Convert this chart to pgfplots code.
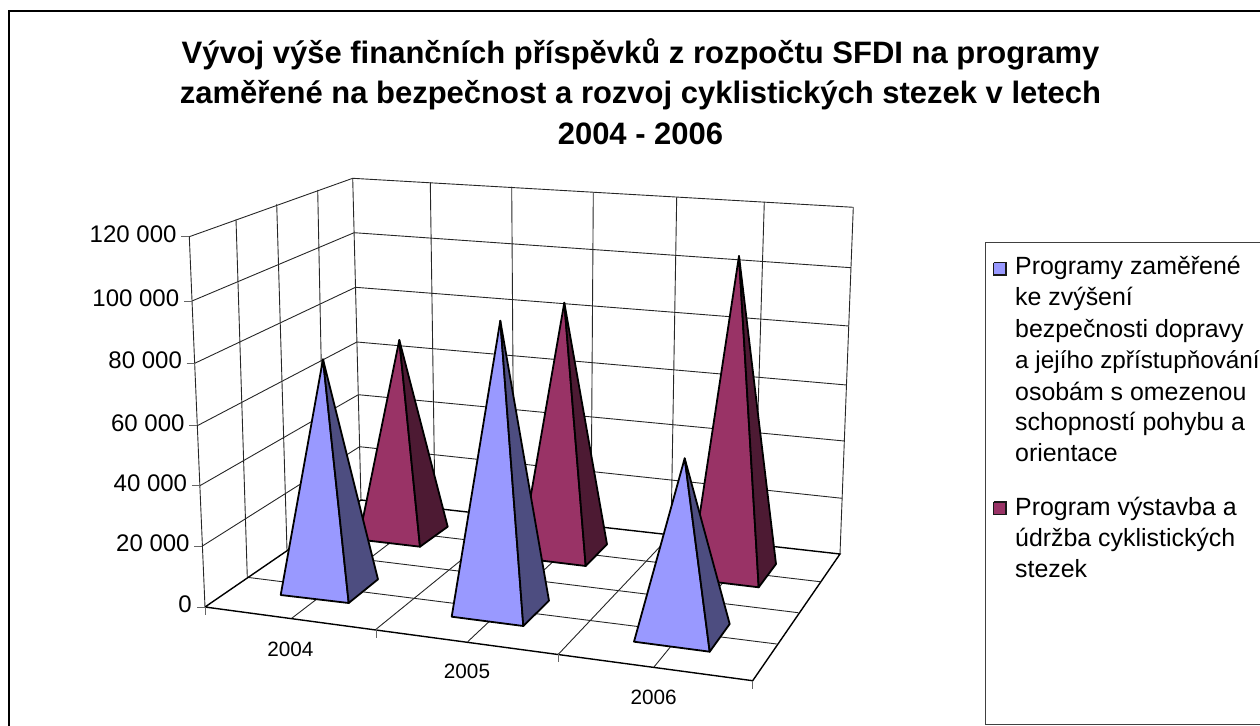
\documentclass[border=0pt]{standalone}
\usepackage{pgfplots}
\pgfplotsset{compat=1.18}
\usepackage{fontspec}
\setmainfont{Liberation Sans}
\definecolor{bluef}{HTML}{9999FF}
\definecolor{blues}{HTML}{4D4D80}
\definecolor{marf}{HTML}{993366}
\definecolor{mars}{HTML}{4D1A33}
\pgfplotsset{
  gl/.style={line width=0.9bp,color=black!85},
  fl/.style={line width=1.4bp,color=black},
  tk/.style={line width=1bp,color=black!60},
  pyr/.style={fill=#1,draw=black,line width=1.8bp,line join=round,line cap=round},
}
\newcommand{\ytl}[3]{\node[anchor=base east,inner sep=0pt] at (axis cs:#1,#2) {\fontsize{24.09}{28}\selectfont #3};}
\newcommand{\xtl}[3]{\node[anchor=base,inner sep=0pt] at (axis cs:#1,#2) {\fontsize{20.8}{24}\selectfont #3};}
\newcommand{\lgt}[2]{\node[anchor=base west,inner sep=0pt] at (axis cs:1015,#1) {\fontsize{25}{28}\selectfont #2};}
\newcommand{\ttl}[2]{\node[anchor=base,inner sep=0pt] at (axis cs:640.5,#1) {\fontsize{31.1}{38}\selectfont\bfseries #2};}
\begin{document}
\begin{tikzpicture}
\path[use as bounding box,clip] (0,0) rectangle (1260bp,726bp);
\begin{axis}[at={(0,0)},anchor=south west,scale only axis,width=1260bp,height=726bp,
  xmin=0,xmax=1260,ymin=0,ymax=726,y dir=reverse,hide axis,clip=false,no markers]
% frame
\addplot[line width=2bp,black] coordinates {(9,740) (9,11) (1270,11)};
% left wall horizontals
\addplot[gl] coordinates {(189.3,236.7) (352.7,178.3)};
\addplot[gl] coordinates {(192,301) (354.1,232.7)};
\addplot[gl] coordinates {(194.7,363.3) (355.5,287.3)};
\addplot[gl] coordinates {(197.3,425.7) (356.9,342)};
\addplot[gl] coordinates {(199.9,485.7) (358.3,394.7)};
\addplot[gl] coordinates {(202.4,546) (359.6,446.7)};
% back wall horizontals
\addplot[gl] coordinates {(352.7,178.3) (853.3,207.3)};
\addplot[gl] coordinates {(354.1,232.7) (851,267.7)};
\addplot[gl] coordinates {(355.5,287.3) (848.8,326)};
\addplot[gl] coordinates {(356.9,342) (846.5,385)};
\addplot[gl] coordinates {(358.3,394.7) (844.3,441)};
\addplot[gl] coordinates {(359.6,446.7) (842.1,498.3)};
% left wall verticals
\addplot[gl] coordinates {(189.3,236.7) (205,607)};
\addplot[gl] coordinates {(236,219.3) (247.3,577.3)};
\addplot[gl] coordinates {(276.7,204) (287,550)};
\addplot[gl] coordinates {(317.7,190) (324.5,523)};
\addplot[gl] coordinates {(352.7,178.3) (361,500)};
% back wall verticals
\addplot[gl] coordinates {(430.3,182.3) (435,508.3)};
\addplot[gl] coordinates {(511.7,186.7) (514,517.2)};
\addplot[gl] coordinates {(593.3,192.3) (591,525.9)};
\addplot[gl] coordinates {(676.7,197.3) (671,535)};
\addplot[gl] coordinates {(764.3,202) (754,544.4)};
\addplot[gl] coordinates {(853.3,207.3) (840,554)};
% floor
\addplot[gl] coordinates {(324.5,523) (820,581.7)};
\addplot[gl] coordinates {(287,550) (798.3,612.7)};
\addplot[gl] coordinates {(247.3,577.3) (776.7,644)};
\addplot[gl] coordinates {(291.7,618.3) (435,508.3)};
\addplot[gl] coordinates {(376,629.3) (514,517.2)};
\addplot[gl] coordinates {(467.7,641.7) (591,525.9)};
\addplot[gl] coordinates {(558.3,654.3) (671,535)};
\addplot[gl] coordinates {(654,667) (754,544.4)};
\addplot[fl] coordinates {(205,607) (361,500) (840,554) (752.7,680.7) (205,607)};
% ticks
\addplot[tk] coordinates {(181.3,236.7) (189.3,236.7)};
\addplot[tk] coordinates {(184,301) (192,301)};
\addplot[tk] coordinates {(186.7,363.3) (194.7,363.3)};
\addplot[tk] coordinates {(189.3,425.7) (197.3,425.7)};
\addplot[tk] coordinates {(191.9,485.7) (199.9,485.7)};
\addplot[tk] coordinates {(194.4,546) (202.4,546)};
\addplot[tk] coordinates {(197,607) (205,607)};
\addplot[tk] coordinates {(205,607) (205,615)};
\addplot[tk] coordinates {(376,629.3) (376,638)};
\addplot[tk] coordinates {(558.3,654.3) (558.3,662)};
\addplot[tk] coordinates {(752.7,680.7) (752.7,689)};
% maroon pyramids
\addplot[pyr=marf] coordinates {(358.7,539.5) (420,546.7) (399.3,340) (358.7,539.5)};
\addplot[pyr=mars] coordinates {(420,546.7) (447.7,526.7) (399.3,340) (420,546.7)};
\addplot[pyr=marf] coordinates {(520,558) (585.7,566) (564.3,302.7) (520,558)};
\addplot[pyr=mars] coordinates {(585.7,566) (607,544.3) (564.3,302.7) (585.7,566)};
\addplot[pyr=marf] coordinates {(690,579) (758.7,587.3) (739,256) (690,579)};
\addplot[pyr=mars] coordinates {(758.7,587.3) (776,564) (739,256) (758.7,587.3)};
% blue pyramids
\addplot[pyr=bluef] coordinates {(280.7,595) (348.7,603) (323,359.3) (280.7,595)};
\addplot[pyr=blues] coordinates {(348.7,603) (378,579.3) (323,359.3) (348.7,603)};
\addplot[pyr=bluef] coordinates {(451.7,616.7) (523.3,626) (500.3,320.7) (451.7,616.7)};
\addplot[pyr=blues] coordinates {(523.3,626) (549,600.7) (500.3,320.7) (523.3,626)};
\addplot[pyr=bluef] coordinates {(634,641.7) (709.7,651.7) (684.7,458.3) (634,641.7)};
\addplot[pyr=blues] coordinates {(709.7,651.7) (729.7,624) (684.7,458.3) (709.7,651.7)};
% legend box
\addplot[line width=1.4bp,color=black!75] coordinates {(1270,242.3) (985.7,242.3) (985.7,724.3) (1270,724.3)};
\addplot[fill=bluef,draw=black!90,line width=1.4bp] coordinates {(993.5,262.5) (1006,262.5) (1006,275) (993.5,275) (993.5,262.5)};
\addplot[fill=marf,draw=black!90,line width=1.4bp] coordinates {(993.5,502) (1006,502) (1006,514.5) (993.5,514.5) (993.5,502)};
% y tick labels
\ytl{176.7}{242.2}{120 000}
\ytl{179.4}{306.5}{100 000}
\ytl{182.1}{368.8}{80 000}
\ytl{184.7}{431.2}{60 000}
\ytl{187.3}{491.2}{40 000}
\ytl{189.8}{551.5}{20 000}
\ytl{192}{612.5}{0}
% x tick labels
\xtl{290.3}{656}{2004}
\xtl{467}{678.3}{2005}
\xtl{653.7}{704}{2006}
% legend text
\lgt{274.3}{Programy zaměřené}
\lgt{305.7}{ke zvýšení}
\lgt{337.2}{bezpečnosti dopravy}
\node[anchor=base west,inner sep=0pt] at (axis cs:1015,368.5) {\fontsize{24.4}{28}\selectfont a jejího zpřístupňování};
\lgt{400}{osobám s omezenou}
\lgt{430.6}{schopností pohybu a}
\lgt{461.5}{orientace}
\lgt{515}{Program výstavba a}
\lgt{546}{údržba cyklistických}
\lgt{577.3}{stezek}
% title
\ttl{63.3}{Vývoj výše finančních příspěvků z rozpočtu SFDI na programy}
\ttl{104}{zaměřené na bezpečnost a rozvoj cyklistických stezek v letech}
\ttl{144.3}{2004 - 2006}
\end{axis}
\end{tikzpicture}
\end{document}
